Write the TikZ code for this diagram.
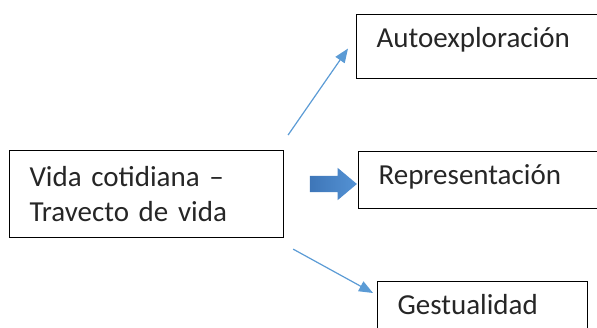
\documentclass[tikz,border=0pt]{standalone}
\usepackage{fontspec}
\setmainfont{Carlito}
\usetikzlibrary{arrows.meta,shapes.arrows}
\definecolor{lineblue}{RGB}{91,155,213}
\definecolor{arrowblue}{RGB}{84,146,212}
\definecolor{arrowdark}{RGB}{62,118,184}
\definecolor{textgray}{RGB}{38,38,38}
\begin{document}
\begin{tikzpicture}[x=1pt,y=-1pt,
    box/.style={draw, line width=1.1pt, anchor=north west, inner xsep=20pt,
      inner ysep=0pt, align=left, text=textgray,
      font=\fontsize{29}{35}\selectfont},
    link/.style={lineblue, line width=1.2pt, -{Triangle[length=14pt,width=11pt]}},
    fatarrow/.style={single arrow, minimum height=47pt, minimum width=32pt,
      single arrow head extend=8pt, single arrow tip angle=80, inner xsep=0pt,
      inner ysep=8pt, left color=arrowdark, right color=arrowblue}]
    \useasboundingbox (0,0) rectangle (597,328);
    \clip (0,0) rectangle (597,328);

    % Boxes
    \node[box, text width=234pt, minimum height=87pt] (vida) at (9,150)
      {Vida cotidiana –\\Travecto de vida};
    \node[box, text width=230pt, text height=33pt, text depth=31pt] (auto) at (356,14)
      {Autoexploración};
    \node[box, text width=230pt, text height=33pt, text depth=24pt] (rep) at (358,151)
      {Representación};
    \node[box, text width=170pt, text height=33pt, text depth=31pt] (gest) at (377,281)
      {Gestualidad};

    % Arrows
    \coordinate (upstart) at ([xshift=4pt,yshift=15pt]vida.north east);
    \coordinate (downstart) at ([xshift=9pt,yshift=-11pt]vida.south east);
    \draw[link] (upstart) -- ([xshift=-8pt,yshift=-2pt]auto.west);
    \draw[link] (downstart) -- ([xshift=-4pt,yshift=-12pt]gest.north west);
    \node[fatarrow] (push) at (328.5,184) {};
\end{tikzpicture}
\end{document}
